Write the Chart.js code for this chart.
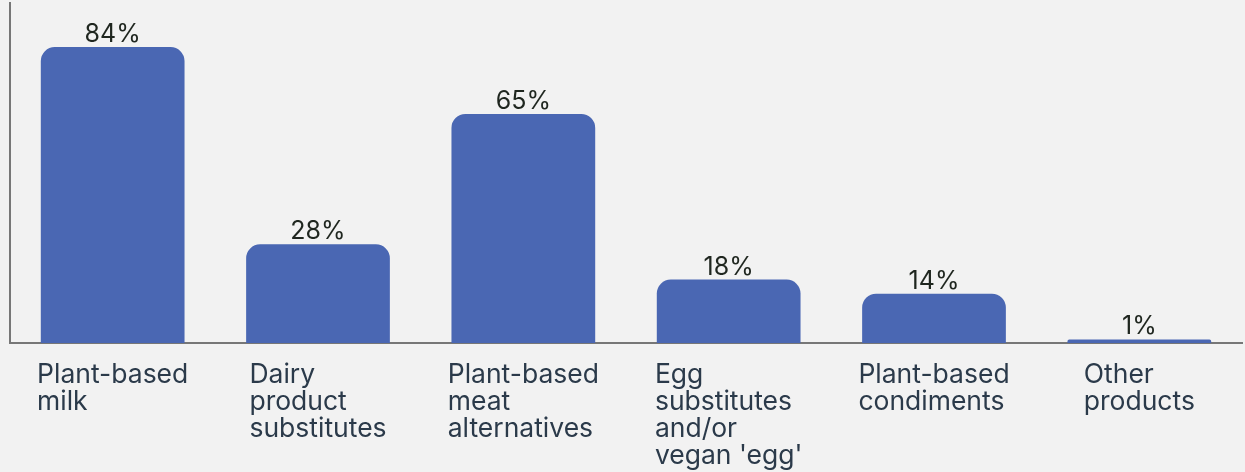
<!DOCTYPE html>
<html>
<head>
<meta charset="utf-8">
<script src="https://cdn.jsdelivr.net/npm/chart.js@4.4.1/dist/chart.umd.min.js"></script>
<style>
  html, body { margin: 0; padding: 0; background: #f2f2f2; }
  #wrap { width: 1245px; height: 472px; position: relative; }
</style>
</head>
<body>
<div id="wrap"><canvas id="myChart"></canvas></div>
<script>
var categories = [
  ["Plant-based", "milk"],
  ["Dairy", "product", "substitutes"],
  ["Plant-based", "meat", "alternatives"],
  ["Egg", "substitutes", "and/or", "vegan 'egg'"],
  ["Plant-based", "condiments"],
  ["Other", "products"]
];
var shares = [84, 28, 65, 18, 14, 1];

var FONT = "Inter, 'Noto Sans', sans-serif";

// value on top of each bar
var valueLabels = {
  id: "valueLabels",
  afterDatasetsDraw: function (chart) {
    var ctx = chart.ctx;
    var meta = chart.getDatasetMeta(0);
    ctx.save();
    ctx.font = "400 25px " + FONT;
    ctx.fillStyle = "#1f261f";
    ctx.textAlign = "center";
    ctx.textBaseline = "alphabetic";
    meta.data.forEach(function (bar, i) {
      ctx.fillText(shares[i] + "%", bar.x, bar.y - 5);
    });
    ctx.restore();
  }
};

// category names under the axis, block centred on the tick, lines left aligned
var categoryLabels = {
  id: "categoryLabels",
  afterDraw: function (chart) {
    var ctx = chart.ctx;
    var xs = chart.scales.x;
    ctx.save();
    ctx.font = "400 26.5px " + FONT;
    ctx.fillStyle = "#2b3a4a";
    ctx.textAlign = "left";
    ctx.textBaseline = "alphabetic";
    categories.forEach(function (lines, i) {
      var cx = xs.getPixelForTick(i);
      var w = 0;
      lines.forEach(function (l) { w = Math.max(w, ctx.measureText(l).width); });
      lines.forEach(function (l, j) {
        ctx.fillText(l, cx - w / 2, 383 + j * 27);
      });
    });
    ctx.restore();
  }
};

var chart = new Chart(document.getElementById("myChart").getContext("2d"), {
  type: "bar",
  data: {
    labels: categories,
    datasets: [
      {
        data: shares,
        backgroundColor: "#4a67b3",
        borderRadius: { topLeft: 14, topRight: 14, bottomLeft: 0, bottomRight: 0 },
        borderSkipped: "bottom",
        barPercentage: 0.7,
        categoryPercentage: 1
      }
    ]
  },
  options: {
    responsive: true,
    maintainAspectRatio: false,
    animation: false,
    layout: { padding: { top: 3, left: 2, right: 3, bottom: 121 } },
    plugins: {
      legend: { display: false },
      tooltip: { enabled: false }
    },
    scales: {
      x: {
        grid: { display: false },
        border: { display: true, color: "#777777", width: 2 },
        ticks: { display: false }
      },
      y: {
        min: 0,
        max: 96.5,
        grid: { display: false },
        border: { display: true, color: "#777777", width: 2 },
        ticks: { display: false }
      }
    }
  },
  plugins: [valueLabels, categoryLabels]
});
</script>
</body>
</html>
